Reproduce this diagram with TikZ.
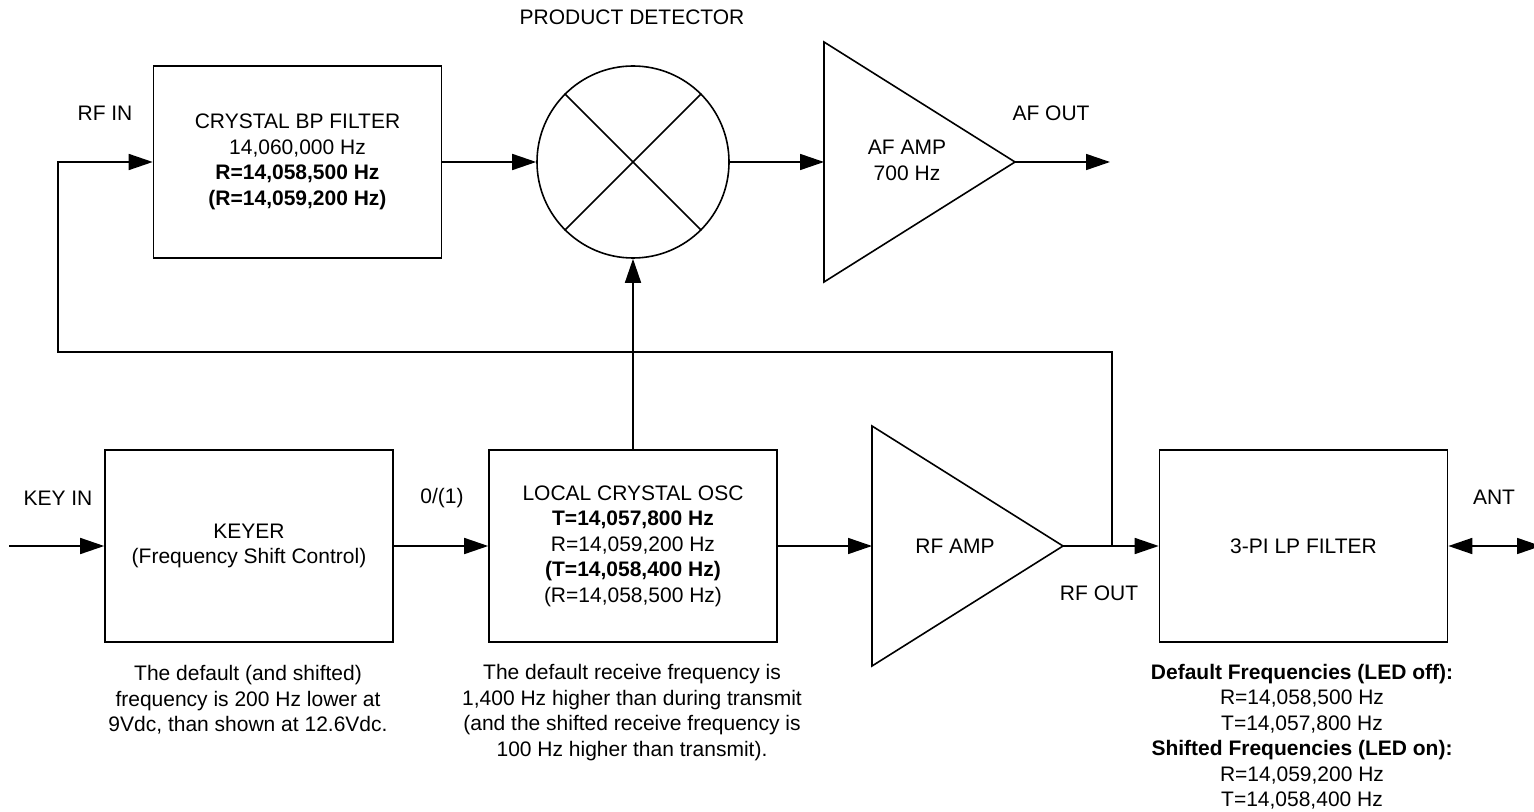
\documentclass[tikz,border=0pt]{standalone}
\usepackage{fontspec}
\setmainfont{Liberation Sans}
\usetikzlibrary{arrows.meta}
\begin{document}
\begin{tikzpicture}[x=0.5pt,y=-0.5pt,line width=0.8pt,
  font=\fontsize{10.5}{12.75}\selectfont,
  blk/.style={draw,minimum width=144pt,minimum height=96pt,inner sep=0pt,align=center},
  sig/.style={-{Triangle[length=12pt,width=8pt]}}]

\useasboundingbox (0,0) rectangle (1534,812);

\node[blk](bp) at(297.5,162) {CRYSTAL BP FILTER\\14,060,000 Hz\\\textbf{R=14,058,500 Hz}\\\textbf{(R=14,059,200 Hz)}};
\node[draw,circle,minimum size=96pt,inner sep=0pt](pd) at(633,162) {};
\node[blk](keyer) at(249,546) {KEYER\\(Frequency Shift Control)};
\node[blk](osc) at(633,546) {LOCAL CRYSTAL OSC\\\textbf{T=14,057,800 Hz}\\R=14,059,200 Hz\\\textbf{(T=14,058,400 Hz)}\\(R=14,058,500 Hz)};
\node[blk](lpf) at(1303.5,546) {3-PI LP FILTER};

\draw (pd.45) -- (pd.225);
\draw (pd.135) -- (pd.-45);

\draw (824,42) -- (1015,162) -- (824,282) -- cycle;
\draw (872,426) -- (1063,546) -- (872,666) -- cycle;

\begin{scope}[every node/.style={align=center}]
\node(pdlbl) at(632,17) {PRODUCT DETECTOR};
\node(afamp) at(907,160.5) {AF AMP\\700 Hz};
\node(rfamp) at(955,546) {RF AMP};
\node(rfinlbl) at(105,113) {RF IN};
\node(afoutlbl) at(1051,113) {AF OUT};
\node(keyinlbl) at(58,498) {KEY IN};
\node(bitlbl) at(442,498) {0/(1)};
\node(antlbl) at(1494,497) {ANT};
\node(rfoutlbl) at(1099,593) {RF OUT};
\node(keynote) at(248,700) {The default (and shifted)\\frequency is 200 Hz lower at\\9Vdc, than shown at 12.6Vdc.};
\node(oscnote) at(632,712.5) {The default receive frequency is\\1,400 Hz higher than during transmit\\(and the shifted receive frequency is\\100 Hz higher than transmit).};
\node(freqnote) at(1302,736.5) {\textbf{Default Frequencies (LED off):}\\R=14,058,500 Hz\\T=14,057,800 Hz\\\textbf{Shifted Frequencies (LED on):}\\R=14,059,200 Hz\\T=14,058,400 Hz};
\end{scope}

\coordinate (afin) at (824,162);
\coordinate (aftip) at (1015,162);
\coordinate (afout) at (1110,162);
\coordinate (rfin) at (872,546);
\coordinate (rftip) at (1063,546);
\coordinate (rfj) at (1112,546);
\coordinate (fb) at (58,352);
\coordinate (keyin) at (9,546);
\coordinate (ant) at (1541,546);

\draw[sig] (bp.east) -- (pd.west);
\draw[sig] (pd.east) -- (afin);
\draw[sig] (aftip) -- (afout);
\draw[sig] (keyin) -- (keyer.west);
\draw[sig] (keyer.east) -- (osc.west);
\draw[sig] (osc.east) -- (rfin);
\draw[sig] (osc.north) -- (pd.south);
\draw[sig] (rftip) -- (lpf.west);
\draw[sig] 
(rfj) |- (fb) 
|- (bp.west)
;
\draw[{Triangle[length=12pt,width=8pt]}-{Triangle[length=12pt,width=8pt]}] (lpf.east) -- (ant);

\end{tikzpicture}
\end{document}
